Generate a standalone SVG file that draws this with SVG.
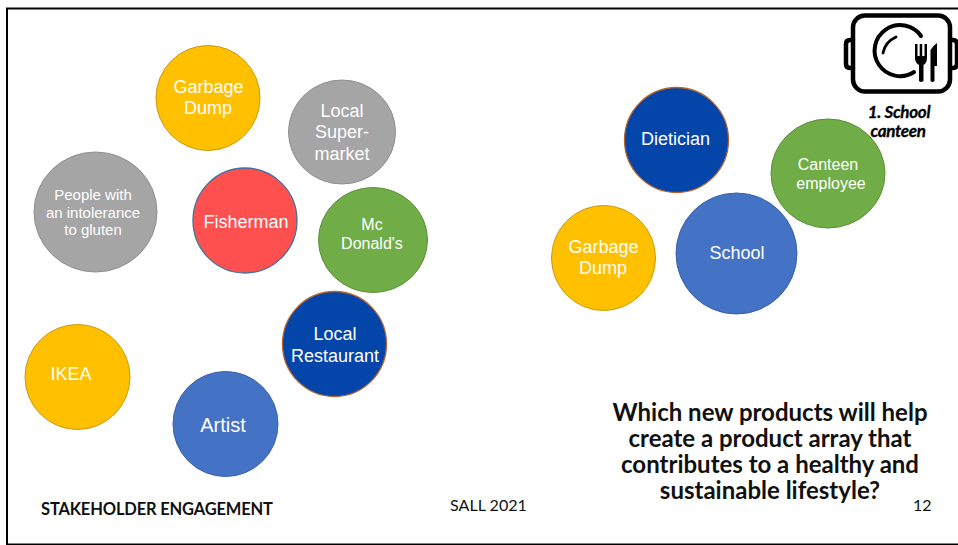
<svg xmlns="http://www.w3.org/2000/svg" width="958" height="545" viewBox="0 0 958 545">
<style>
.c{font-family:"Liberation Sans",Arial,sans-serif;fill:#fff;text-anchor:middle}
.l{font-family:Lato,"Liberation Sans",sans-serif;fill:#111}
.b{font-weight:700;text-anchor:middle;font-size:24px}
.ic{fill:none;stroke:#000;stroke-linecap:round;stroke-linejoin:round}
.yellow{fill:#ffc000;stroke:#c99a10;stroke-width:1}
.gray{fill:#a5a5a5;stroke:#8f8f8f;stroke-width:1}
.green{fill:#70ad47;stroke:#5b8f3a;stroke-width:1}
.blue{fill:#4472c4;stroke:#3a62a8;stroke-width:1}
.navy{fill:#0345a8;stroke:#b5622a;stroke-width:1.3}
.red{fill:#ff5050;stroke:#41719c;stroke-width:1.3}
</style>
<rect width="958" height="545" fill="#fff"/>
<path d="M7 545V8.500H958M7 544.500H958" fill="none" stroke="#000" stroke-width="2"/>
<g id="connectors"/>
<g id="garbage-left"><ellipse class="yellow" cx="208" cy="98" rx="52" ry="52.500"/><text class="c" font-size="18"><tspan x="208.500" y="93">Garbage</tspan><tspan x="208" y="114">Dump</tspan></text></g>
<g id="supermarket"><ellipse class="gray" cx="342" cy="132" rx="53.500" ry="52"/><text class="c" font-size="18"><tspan x="342" y="117">Local</tspan><tspan x="342" y="138">Super-</tspan><tspan x="342" y="160">market</tspan></text></g>
<g id="gluten"><ellipse class="gray" cx="95.500" cy="212" rx="61.500" ry="60"/><text class="c" font-size="15"><tspan x="93" y="200">People with</tspan><tspan x="93" y="218">an intolerance</tspan><tspan x="93" y="235">to gluten</tspan></text></g>
<g id="fisherman"><ellipse class="red" cx="245" cy="220.500" rx="52" ry="52.500"/><text class="c" font-size="18" x="246" y="228">Fisherman</text></g>
<g id="mcdonalds"><ellipse class="green" cx="373" cy="240" rx="54.500" ry="52.500"/><text class="c" font-size="16"><tspan x="372" y="230">Mc</tspan><tspan x="372" y="249">Donald's</tspan></text></g>
<g id="restaurant"><ellipse class="navy" cx="334.500" cy="344" rx="52" ry="52.500"/><text class="c" font-size="18"><tspan x="335" y="340">Local</tspan><tspan x="335" y="362">Restaurant</tspan></text></g>
<g id="ikea"><ellipse class="yellow" cx="77.500" cy="377" rx="52.500" ry="52.500"/><text class="c" font-size="18" x="71" y="380">IKEA</text></g>
<g id="artist"><ellipse class="blue" cx="225.500" cy="424" rx="52.500" ry="52.500"/><text class="c" font-size="20" x="223" y="432">Artist</text></g>
<g id="dietician"><ellipse class="navy" cx="676.500" cy="140" rx="52" ry="52.500"/><text class="c" font-size="18" x="675.500" y="145">Dietician</text></g>
<g id="canteen-employee"><ellipse class="green" cx="828" cy="173.500" rx="57" ry="54.500"/><text class="c" font-size="16"><tspan x="828" y="170">Canteen</tspan><tspan x="831" y="189">employee</tspan></text></g>
<g id="school"><ellipse class="blue" cx="736.500" cy="253.500" rx="60.500" ry="60.500"/><text class="c" font-size="18" x="737" y="259">School</text></g>
<g id="garbage-right"><ellipse class="yellow" cx="603.500" cy="258" rx="52" ry="52.500"/><text class="c" font-size="18"><tspan x="603.500" y="253">Garbage</tspan><tspan x="603" y="274">Dump</tspan></text></g>
<g id="canteen-icon">
<rect class="ic" x="853" y="15.500" width="97" height="76" rx="12" stroke-width="4.500"/>
<path class="ic" stroke-width="4.500" d="M853 40H850Q846 40 846 44V64Q846 68 850 68H853M950 40H953Q957 40 957 44V64Q957 68 953 68H950"/>
<path class="ic" stroke-width="4" d="M914 72A25.500 25.500 0 1 1 921 36"/>
<path class="ic" stroke-width="2.800" d="M883 53Q885 42 896 37"/>
<path d="M915 44H917.500V56H919.700V44H922.200V56H924.500V44H927V58Q927 63 923.500 65V81Q921 83 919 81V65Q915 63 915 58ZM930.500 81V50Q934 45 937 43V66H934.500V81Q932.500 83 930.500 81Z" fill="#000"/>
</g>
<g id="canteen-label" font-family="Lato,'Liberation Sans',sans-serif" font-style="italic" font-weight="700" font-size="17" letter-spacing="-.3" text-anchor="middle" fill="#000" stroke="#000" stroke-width=".3"><text x="899" y="118">1. School</text><text x="898" y="137">canteen</text></g>
<g id="question" class="l"><text class="l b" x="770" y="421">Which new products will help</text><text class="l b" x="770" y="447">create a product array that</text><text class="l b" x="770" y="473">contributes to a healthy and</text><text class="l b" x="770" y="499">sustainable lifestyle?</text></g>
<text class="l" x="41" y="515" font-size="16.500" font-weight="700" textLength="232" lengthAdjust="spacing">STAKEHOLDER ENGAGEMENT</text>
<text class="l" x="450" y="511" font-size="16.100">SALL 2021</text>
<text class="l" x="913" y="511" font-size="16">12</text>
</svg>
